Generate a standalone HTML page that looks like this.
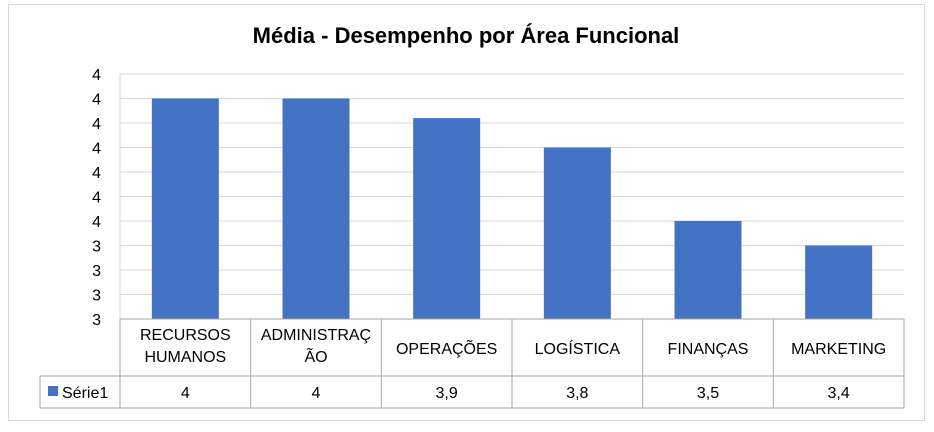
<!DOCTYPE html>
<html><head><meta charset="utf-8"><style>
body{margin:0;background:#fff;font-family:"Liberation Sans",Arial,sans-serif;}
svg text{font-family:"Liberation Sans",Arial,sans-serif;}
</style></head><body>
<svg id="c" width="934" height="427" xmlns="http://www.w3.org/2000/svg">
<rect x="8.5" y="4.5" width="916" height="416" fill="#fff" stroke="#d9d9d9"/>
<text x="466" y="43" text-anchor="middle" font-size="22" font-weight="bold" fill="#000">Média - Desempenho por Área Funcional</text>
<g id="grid"></g><g id="bars"></g><g id="table"></g>
</svg>
<script>
const categories=[["RECURSOS","HUMANOS"],["ADMINISTRAÇ","ÃO"],["OPERAÇÕES"],["LOGÍSTICA"],["FINANÇAS"],["MARKETING"]];
const values=[4.0,4.0,3.92,3.8,3.5,3.4];
const printed=["4","4","3,9","3,8","3,5","3,4"];
const ticks=[3.1,3.2,3.3,3.4,3.5,3.6,3.7,3.8,3.9,4.0,4.1];
const seriesName="Série1";
const NS="http://www.w3.org/2000/svg";
const x0=120,x1=904,yTop=74,yBot=319,vmin=3.1,vmax=4.1;
const y=v=>yBot-(v-vmin)/(vmax-vmin)*(yBot-yTop);
const bw=(x1-x0)/categories.length;
function mk(t,a,p,txt){const e=document.createElementNS(NS,t);for(const k in a)e.setAttribute(k,a[k]);if(txt!==undefined)e.textContent=txt;p.appendChild(e);return e;}
const g=document.getElementById('grid'),b=document.getElementById('bars'),tb=document.getElementById('table');
ticks.forEach(t=>{
 const l=mk('line',{x1:x0,x2:x1,y1:y(t),y2:y(t),stroke:'#d9d9d9'},g);
 
 
 const tx=mk('text',{x:101,y:y(t)+6,'text-anchor':'end','font-size':16,fill:'#000'},g,String(Math.round(t)));
 
 
});
mk('line',{x1:x0,x2:x0,y1:yTop,y2:yBot,stroke:'#d9d9d9'},g);
values.forEach((v,i)=>{
 const cx=x0+bw*(i+0.5);
 const r=mk('rect',{x:cx-33.5,y:y(v),width:67,height:yBot-y(v),fill:'#4472c4'},b);
 
 
});
// table
const rowA=yBot,rowB=376,rowC=408;
mk('line',{x1:x0,x2:x1,y1:rowB,y2:rowB,stroke:'#a6a6a6'},tb);
mk('line',{x1:40,x2:x1,y1:rowB,y2:rowB,stroke:'#a6a6a6'},tb);
mk('line',{x1:40,x2:x1,y1:rowC,y2:rowC,stroke:'#a6a6a6'},tb);
mk('line',{x1:40,x2:40,y1:rowB,y2:rowC,stroke:'#a6a6a6'},tb);
mk('line',{x1:x0,x2:x1,y1:rowA,y2:rowA,stroke:'#a6a6a6'},tb);
for(let i=0;i<=categories.length;i++){mk('line',{x1:x0+bw*i,x2:x0+bw*i,y1:rowA,y2:rowC,stroke:'#a6a6a6'},tb);}
categories.forEach((c,i)=>{
 const cx=x0+bw*(i+0.5);
 c.forEach((ln,j)=>{
  const t=mk('text',{x:cx,y:(c.length===1?354:340+j*22),'text-anchor':'middle','font-size':16,fill:'#000'},tb,ln);
  
  
 });
 const p=mk('text',{x:cx,y:398,'text-anchor':'middle','font-size':16,fill:'#000'},tb,printed[i]);
 
 
});
const sw=mk('rect',{x:48,y:386,width:10,height:10,fill:'#4472c4'},tb);


const lt=mk('text',{x:62,y:398,'font-size':16,fill:'#000'},tb,seriesName);


</script>
</body></html>
